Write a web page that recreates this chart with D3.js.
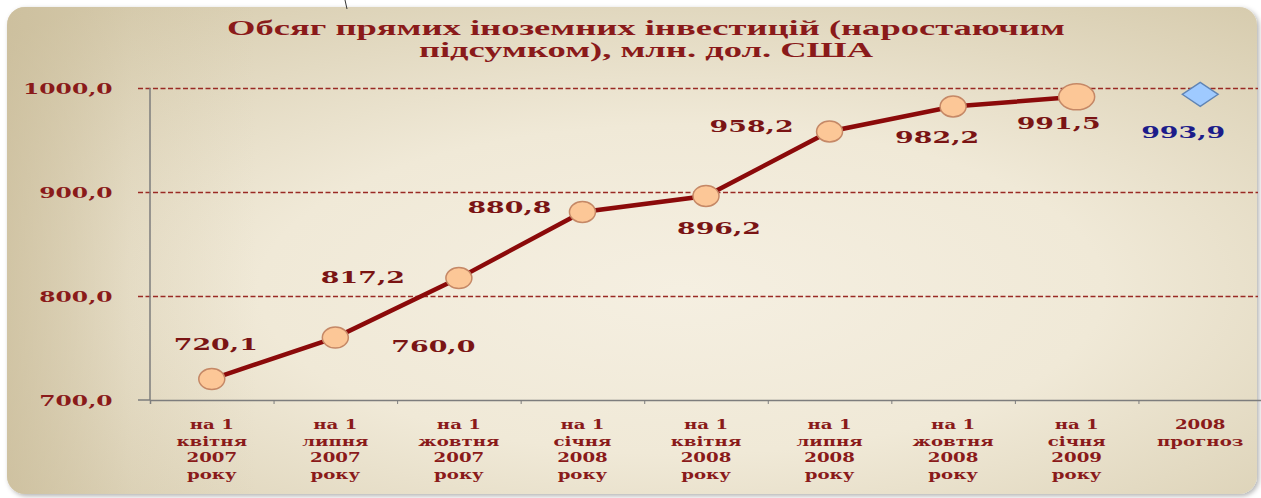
<!DOCTYPE html>
<html>
<head>
<meta charset="utf-8">
<script src="https://cdn.jsdelivr.net/npm/d3@7"></script>
<style>
  html, body { margin: 0; padding: 0; background: #ffffff; }
  svg { display: block; }
</style>
</head>
<body>
<div id="chart"></div>
<script>
// chart data
const titleLines = ["Обсяг прямих іноземних інвестицій (наростаючим", "підсумком), млн. дол. США"];
const categories = [
  ["на 1", "квітня", "2007", "року"],
  ["на 1", "липня", "2007", "року"],
  ["на 1", "жовтня", "2007", "року"],
  ["на 1", "січня", "2008", "року"],
  ["на 1", "квітня", "2008", "року"],
  ["на 1", "липня", "2008", "року"],
  ["на 1", "жовтня", "2008", "року"],
  ["на 1", "січня", "2009", "року"],
  ["2008", "прогноз"]
];
const values = [720.1, 760.0, 817.2, 880.8, 896.2, 958.2, 982.2, 991.5];
const forecast = 993.9;
const yTicks = [700, 800, 900, 1000];
// where each value label sits relative to its marker (dx, dy of baseline centre)
const labelOffsets = [[4, -29], [98, 14], [-96, 5], [-73, 1], [13, 38], [-78, 1], [-16, 36], [-18, 32]];
const forecastOffset = [-17, 44];

const W = 1261, H = 498;
const plotLeft = 150, plotRight = 1262, plotTop = 88, plotBottom = 400;
const dark = "#8a1a1a";
const comma = d => d3.format(".1f")(d).replace(".", ",");

const svg = d3.select("#chart").append("svg")
  .attr("width", W).attr("height", H);

const defs = svg.append("defs");
const bg = defs.append("radialGradient").attr("id", "bg")
  .attr("cx", "54%").attr("cy", "58%").attr("r", "75%");
bg.append("stop").attr("offset", "0%").attr("stop-color", "#f5efe1");
bg.append("stop").attr("offset", "45%").attr("stop-color", "#f0e9d7");
bg.append("stop").attr("offset", "100%").attr("stop-color", "#d6cbad");
// darker band down the left edge
const edge = defs.append("linearGradient").attr("id", "edge")
  .attr("x1", "0%").attr("x2", "100%");
edge.append("stop").attr("offset", "0%").attr("stop-color", "#c9bb98").attr("stop-opacity", 0.7);
edge.append("stop").attr("offset", "10%").attr("stop-color", "#c9bb98").attr("stop-opacity", 0.15);
edge.append("stop").attr("offset", "20%").attr("stop-color", "#c9bb98").attr("stop-opacity", 0);
const sh = defs.append("filter").attr("id", "shadow")
  .attr("x", "-2%").attr("y", "-2%").attr("width", "104%").attr("height", "106%");
sh.append("feDropShadow").attr("dx", 2).attr("dy", 2).attr("stdDeviation", 2.5)
  .attr("flood-color", "#000").attr("flood-opacity", 0.3);

svg.append("rect")
  .attr("x", 7).attr("y", 7).attr("width", 1250).attr("height", 487)
  .attr("rx", 18).attr("fill", "url(#bg)").attr("filter", "url(#shadow)");
svg.append("rect")
  .attr("x", 7).attr("y", 7).attr("width", 1250).attr("height", 487)
  .attr("rx", 18).attr("fill", "url(#edge)");

// small mark above the panel
svg.append("line").attr("x1", 345).attr("y1", 0).attr("x2", 347).attr("y2", 9)
  .attr("stroke", "#333").attr("stroke-width", 1);

// title
svg.append("g").selectAll("text").data(titleLines).enter().append("text")
  .attr("transform", (d, i) => `translate(646,${35 + i * 22}) scale(1.74,1)`)
  .attr("text-anchor", "middle")
  .attr("font-family", "Liberation Serif")
  .attr("font-weight", "bold")
  .attr("font-size", 21)
  .attr("fill", dark)
  .text(d => d);

const x = d3.scaleBand().domain(d3.range(categories.length)).range([plotLeft, plotRight]);
const xEdge = d3.scaleLinear().domain([0, categories.length]).range([plotLeft, plotRight]);
const y = d3.scaleLinear().domain([700, 1000]).range([plotBottom, plotTop]);

// horizontal grid with value labels
const yAxis = svg.append("g")
  .attr("transform", `translate(${plotLeft},0)`)
  .call(d3.axisLeft(y).tickValues(yTicks).tickSize(-(1258 - plotLeft)).tickFormat(comma));
yAxis.select(".domain").remove();
yAxis.selectAll(".tick line")
  .attr("x1", -12)
  .attr("stroke", "#9a2a24")
  .attr("stroke-width", 1.4)
  .attr("stroke-dasharray", "5,2.5")
  .attr("display", d => d === 700 ? "none" : null);
yAxis.selectAll(".tick text")
  .attr("x", -24)
  .attr("dy", "0.36em")
  .attr("transform", "scale(1.56,1)")
  .attr("font-family", "DejaVu Serif")
  .attr("font-weight", "bold")
  .attr("font-size", 15)
  .attr("fill", dark);

// y axis line
svg.append("line")
  .attr("x1", plotLeft).attr("x2", plotLeft).attr("y1", plotTop).attr("y2", plotBottom)
  .attr("stroke", "#7d7d7d").attr("stroke-width", 1.5);

// x axis
const xAxis = svg.append("g")
  .attr("transform", `translate(0,${plotBottom})`)
  .call(d3.axisBottom(xEdge).ticks(categories.length).tickSize(4).tickFormat(""));
xAxis.select(".domain").attr("stroke", "#7d7d7d").attr("stroke-width", 1.5);
xAxis.selectAll(".tick line").attr("stroke", "#7d7d7d");
// left outward tick for 700
svg.append("line").attr("x1", plotLeft - 12).attr("x2", plotLeft).attr("y1", plotBottom).attr("y2", plotBottom)
  .attr("stroke", "#7d7d7d").attr("stroke-width", 1.5);

// category labels
const catG = svg.append("g").selectAll("g").data(categories).enter().append("g")
  .attr("transform", (d, i) => `translate(${x(i) + x.bandwidth() / 2},0)`);
catG.selectAll("text").data(d => d).enter().append("text")
  .attr("transform", (d, j) => `translate(0,${429 + j * 16.5}) scale(1.4,1)`)
  .attr("text-anchor", "middle")
  .attr("font-family", "DejaVu Serif")
  .attr("font-weight", "bold")
  .attr("font-size", 13)
  .attr("fill", dark)
  .text(d => d);

// line
const cx = i => x(i) + x.bandwidth() / 2;
svg.append("path")
  .datum(values)
  .attr("fill", "none")
  .attr("stroke", "#8b0a0a")
  .attr("stroke-width", 4.5)
  .attr("d", d3.line().x((d, i) => cx(i)).y(d => y(d)));

// markers
svg.append("g").selectAll("ellipse").data(values).enter().append("ellipse")
  .attr("cx", (d, i) => cx(i))
  .attr("cy", d => y(d))
  .attr("rx", (d, i) => i === values.length - 1 ? 18 : 13)
  .attr("ry", (d, i) => i === values.length - 1 ? 13 : 10.5)
  .attr("fill", "#fcc797")
  .attr("stroke", "#c58866")
  .attr("stroke-width", 1.5);

// forecast diamond
const fx = cx(values.length), fy = y(forecast);
svg.append("path")
  .attr("d", d3.line()([[fx - 18, fy], [fx, fy - 12], [fx + 18, fy], [fx, fy + 12]]) + "Z")
  .attr("fill", "#9fcaff")
  .attr("stroke", "#5f84b4")
  .attr("stroke-width", 1.3);

// value labels
svg.append("g").selectAll("text").data(values).enter().append("text")
  .attr("transform", (d, i) => `translate(${cx(i) + labelOffsets[i][0]},${y(d) + labelOffsets[i][1]}) scale(1.58,1)`)
  .attr("text-anchor", "middle")
  .attr("font-family", "DejaVu Serif")
  .attr("font-weight", "bold")
  .attr("font-size", 17)
  .attr("fill", "#7a1414")
  .text(comma);

svg.append("text")
  .attr("transform", `translate(${fx + forecastOffset[0]},${fy + forecastOffset[1]}) scale(1.58,1)`)
  .attr("text-anchor", "middle")
  .attr("font-family", "DejaVu Serif")
  .attr("font-weight", "bold")
  .attr("font-size", 17)
  .attr("fill", "#1c1c8a")
  .text(comma(forecast));
</script>
</body>
</html>
